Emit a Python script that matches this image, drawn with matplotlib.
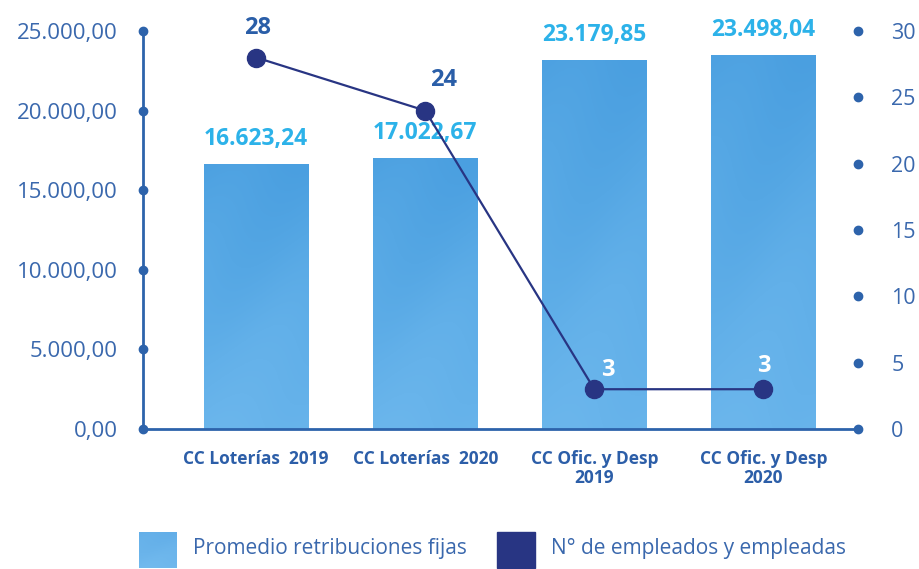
import numpy as np
import matplotlib.pyplot as plt
from matplotlib.colors import LinearSegmentedColormap
from matplotlib.patches import Rectangle

plt.rcParams['font.family'] = ['Open Sans', 'DejaVu Sans']

# Data
categories = ["CC Loterías  2019", "CC Loterías  2020",
              "CC Ofic. y Desp\n2019", "CC Ofic. y Desp\n2020"]
retribuciones = [16623.24, 17022.67, 23179.85, 23498.04]
empleados = [28, 24, 3, 3]
left_ticks = [0, 5000, 10000, 15000, 20000, 25000]
right_ticks = [0, 5, 10, 15, 20, 25, 30]
legend_labels = ["Promedio retribuciones fijas", "N° de empleados y empleadas"]

AXIS_BLUE = '#2d63ab'
TEXT_BLUE = '#3a68ad'
VALUE_CYAN = '#2cb2e9'
NAVY = '#283583'


def fmt_es(v):
    s = f"{v:,.2f}"
    return s.replace(",", "X").replace(".", ",").replace("X", ".")


fig = plt.figure(figsize=(9.2, 5.69), dpi=100)
ax = fig.add_axes([0.1554, 0.2460, 0.7772, 0.6995])

x = np.arange(len(categories))
xmin, xmax = -0.67, 3.56
bars = ax.bar(x, retribuciones, width=0.62, color='#5aa9e4', zorder=2)

# Watercolour-like vertical gradient inside each bar (darker at the top)
bar_cmap = LinearSegmentedColormap.from_list(
    'barfill', ['#4a9fe0', '#55a7e4', '#62b0e9', '#6bb6ec'])
yy = np.linspace(0, 1, 200)[:, None]
xx = np.linspace(0, 1, 40)[None, :]
fill = 0.85 * yy + 0.15 * (0.5 + 0.5 * np.sin(xx * 5.0 + yy * 7.0))
for b in bars:
    im = ax.imshow(fill, cmap=bar_cmap, aspect='auto', zorder=3,
                   extent=[b.get_x(), b.get_x() + b.get_width(), 0, b.get_height()],
                   interpolation='bicubic')
    im.set_clip_path(b)

ax.set_xlim(xmin, xmax)
ax.set_ylim(0, 25000)

for side in ['top', 'right']:
    ax.spines[side].set_visible(False)
for side in ['left', 'bottom']:
    ax.spines[side].set_color(AXIS_BLUE)
    ax.spines[side].set_linewidth(2)
    ax.spines[side].set_zorder(4)

ax.set_yticks(left_ticks, [fmt_es(t) for t in left_ticks])
ax.tick_params(axis='y', length=0, pad=18, labelsize=16, labelcolor=TEXT_BLUE)
ax.set_xticks(x, categories)
ax.tick_params(axis='x', length=0, pad=15, labelsize=12.5, labelcolor='#2c5ea8')
for lbl in ax.get_xticklabels():
    lbl.set_fontweight('bold')
    lbl.set_linespacing(1.05)

ax.plot([xmin] * len(left_ticks), left_ticks, 'o', color=AXIS_BLUE, ms=6,
        clip_on=False, zorder=5)

# Bar value labels
for xi, v in zip(x, retribuciones):
    ax.annotate(fmt_es(v), (xi, v), xytext=(0, 18), textcoords='offset points',
                ha='center', va='center', fontsize=16.5, fontweight='bold',
                color=VALUE_CYAN, zorder=6)

# Secondary axis: number of employees
ax2 = ax.twinx()
ax2.set_ylim(0, 30)
ax2.set_xlim(xmin, xmax)
for s in ax2.spines.values():
    s.set_visible(False)
ax2.set_yticks(right_ticks, [str(t) for t in right_ticks])
ax2.tick_params(axis='y', length=0, pad=24, labelsize=15.5, labelcolor=TEXT_BLUE)
ax2.plot([xmax] * len(right_ticks), right_ticks, 'o', color=AXIS_BLUE, ms=6,
         clip_on=False, zorder=5)

ax2.plot(x, empleados, color=NAVY, lw=1.6, marker='o', ms=13, zorder=6)

label_offsets = [(0.7, 21), (13, 22), (10, 14), (0, 17)]
label_colors = ['#2a5ea8', '#2a5ea8', 'white', 'white']
for xi, v, off, c in zip(x, empleados, label_offsets, label_colors):
    ax2.annotate(str(v), (xi, v), xytext=off, textcoords='offset points',
                 ha='center', va='center', fontsize=17, fontweight='bold',
                 color=c, zorder=7)

# Legend
leg_ax = fig.add_axes([0, 0, 1, 1], zorder=-1)
leg_ax.set_axis_off()
leg_ax.set_xlim(0, 1)
leg_ax.set_ylim(0, 1)
patch_w, patch_h = 38 / 920, 36 / 569
leg_ax.imshow(fill, cmap=LinearSegmentedColormap.from_list('lg', ['#62aee8', '#72baee']),
              aspect='auto', extent=[139 / 920, 139 / 920 + patch_w, 0.0018, 0.0018 + patch_h],
              interpolation='bicubic')
leg_ax.add_patch(Rectangle((497 / 920, 0.0018), patch_w, patch_h, color=NAVY))
leg_ax.text(193 / 920, 0.036, legend_labels[0], fontsize=15, color=TEXT_BLUE,
            ha='left', va='center')
leg_ax.text(551 / 920, 0.036, legend_labels[1], fontsize=15, color=TEXT_BLUE,
            ha='left', va='center')

fig.savefig('out.png', dpi=100)
